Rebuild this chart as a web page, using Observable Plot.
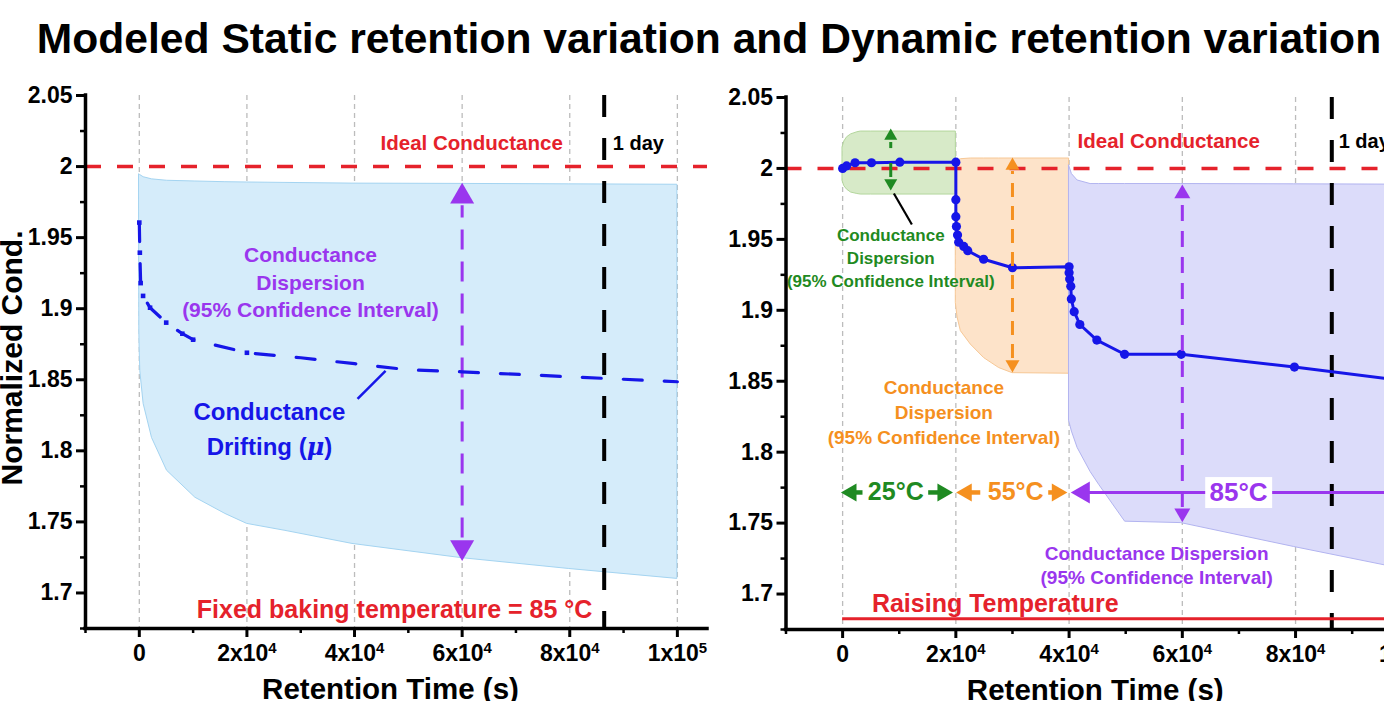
<!DOCTYPE html>
<html>
<head>
<meta charset="utf-8">
<script src="https://cdn.jsdelivr.net/npm/d3@7"></script>
<script src="https://cdn.jsdelivr.net/npm/@observablehq/plot@0.6"></script>
<style>
  html, body { margin:0; padding:0; background:#fff; overflow:hidden; }
  #wrap { position:relative; width:1384px; height:701px; overflow:hidden; background:#fff; font-family:"Liberation Sans", Arial, sans-serif; }
  #title { position:absolute; left:0; top:17px; width:1418px; text-align:center; font-size:42.6px; line-height:43px; font-weight:bold; color:#000; white-space:nowrap; }
  .panel { position:absolute; top:0; }
  .panel svg { max-width:none !important; overflow:visible; }
</style>
</head>
<body>
<div id="wrap">
  <div id="left" class="panel" style="left:0;width:720px;height:701px"></div>
  <div id="right" class="panel" style="left:700px;width:753px;height:701px"></div>
  <div id="title">Modeled Static retention variation and Dynamic retention variation</div>
</div>
<script>
// ---------------- shared axes ----------------
const xDomain = [-10000, 105600];
const yDomain = [1.675, 2.05];
const xTicks = [0, 20000, 40000, 60000, 80000, 100000];
const xTickLabels = ["0", "2x10^4", "4x10^4", "6x10^4", "8x10^4", "1x10^5"];
const xMinorTicks = [-10000, 10000, 30000, 50000, 70000, 90000];
const yTicks = [1.7, 1.75, 1.8, 1.85, 1.9, 1.95, 2, 2.05];
const yTickLabels = ["1.7", "1.75", "1.8", "1.85", "1.9", "1.95", "2", "2.05"];
const yMinorTicks = [1.675, 1.725, 1.775, 1.825, 1.875, 1.925, 1.975, 2.025];
const gridT = [0, 20000, 40000, 60000, 80000, 100000];
const idealLevel = 2;
const oneDay = 86400;
const xAxisLabel = "Retention Time (s)";
const yAxisLabel = "Normalized Cond.";

// ---------------- left: static retention (85 °C) ----------------
const staticMuT = [0, 100, 250, 700, 2000, 5000, 8000, 10000, 20000, 30000, 40000, 50000, 60000, 80000, 100000];
const staticMuV = [1.9606, 1.9394, 1.918, 1.909, 1.9007, 1.8902, 1.8824, 1.8782, 1.869, 1.8655, 1.8613, 1.857, 1.8556, 1.8521, 1.8486];
const staticBandT  = [0, 60, 186, 800, 2363, 5153, 10419, 16000, 20037, 27163, 39628, 59722, 79815, 100000];
const staticBandLo = [1.885, 1.872, 1.856, 1.833, 1.809, 1.786, 1.767, 1.7556, 1.7486, 1.7437, 1.7345, 1.7246, 1.7169, 1.7099];
const staticBandHi = [1.9944, 1.9942, 1.994, 1.9925, 1.991, 1.990, 1.9895, 1.989, 1.9888, 1.9885, 1.988, 1.9878, 1.9875, 1.9872];
const staticArrow = {t: 60000, tipHi: 1.9887, tipLo: 1.7225, stemHi: 1.9725, stemLo: 1.7387};
const staticLeader = {t1: 40559, v1: 1.8366, t2: 45768, v2: 1.8563};
const staticTexts = [
  {t: 61767, v: 2.0171, s: "Ideal Conductance", c: "red", size: 20.5, lh: 1.2, anchor: "middle"},
  {t: 88000, v: 2.0171, s: "1 day", c: "black", size: 20, lh: 1.2, anchor: "start"},
  {t: 31814, v: 1.9197, s: "Conductance\nDispersion\n(95% Confidence Interval)", c: "purple", size: 21, lh: 1.31, anchor: "middle"},
  {t: 24186, v: 1.8173, s: "Conductance\nDrifting (μ)", c: "blue", size: 24, lh: 1.46, anchor: "middle"},
  {t: 47443, v: 1.6894, s: "Fixed baking temperature = 85 °C", c: "red", size: 25, lh: 1.2, anchor: "middle"}
];

// ---------------- right: dynamic retention (25 → 55 → 85 °C) ----------------
const dynMuT = [0, 700, 2200, 5100, 10100, 20000, 20000, 20000, 20100, 20300, 20500, 21400, 22100, 24900, 30000,
                40000, 40000, 40100, 40300, 40400, 40900, 41900, 44900, 49800, 59800, 79800, 100000];
const dynMuV = [2.000, 2.0018, 2.004, 2.004, 2.0044, 2.0044, 1.978, 1.966, 1.959, 1.953, 1.948, 1.945, 1.942, 1.936, 1.930,
                1.9307, 1.9265, 1.922, 1.917, 1.908, 1.899, 1.890, 1.879, 1.869, 1.869, 1.860, 1.850];
const band25T  = [0, 300, 800, 1500, 2600, 3200, 5000, 20000];
const band25Hi = [2.015, 2.019, 2.022, 2.024, 2.0255, 2.026, 2.026, 2.026];
const band25Lo = [1.991, 1.9875, 1.985, 1.983, 1.982, 1.9816, 1.9816, 1.9816];
const band55T  = [20000, 20300, 20883, 22648, 24996, 27644, 30009, 40000];
const band55Hi = [2.002, 2.0055, 2.0065, 2.007, 2.007, 2.007, 2.007, 2.007];
const band55Lo = [1.905, 1.895, 1.8853, 1.8758, 1.8663, 1.8593, 1.8557, 1.8553];
const band85T  = [40000, 40500, 41500, 43800, 45300, 49900, 59800, 79700, 95800, 105600];
const band85Hi = [2.002, 1.996, 1.9915, 1.989, 1.989, 1.989, 1.989, 1.9888, 1.9886, 1.9885];
const band85Lo = [1.822, 1.8145, 1.803, 1.786, 1.777, 1.751, 1.750, 1.7332, 1.7202, 1.7135];
const dynArrows = [
  {stage: "25", t: 8500,  tipHi: 2.0281, stemHi1: 2.0183, stemHi2: 2.014, tipLo: 1.9844, stemLo1: 1.9936, stemLo2: 2.0035, side: 13, dash: null},
  {stage: "55", t: 30000, tipHi: 2.0077, stemHi1: 1.9978, stemHi2: 1.9978, tipLo: 1.8562, stemLo1: 1.866, stemLo2: 1.9978, side: 14, dash: "14,9"},
  {stage: "85", t: 60000, tipHi: 1.9887, stemHi1: 1.9795, stemHi2: 1.9795, tipLo: 1.7506, stemLo1: 1.761, stemLo2: 1.9795, side: 16, dash: "16,10"}
];
const dynLeader = {t1: 9055, v1: 1.9823, t2: 12233, v2: 1.9605};
const tempRowV = 1.7716;
const tempLabels = ["25°C", "55°C", "85°C"];
const tempLabelT = [9391, 30573, 69937];
const tempStems = [
  {stage: "25", t1: 1800, t2: 3600}, {stage: "25", t1: 15200, t2: 17200},
  {stage: "55", t1: 22300, t2: 24400}, {stage: "55", t1: 36400, t2: 37400},
  {stage: "85", t1: 43000, t2: 105600}
];
const tempHeads = [
  {stage: "25", t: -300, dir: "left"}, {stage: "25", t: 19500, dir: "right"},
  {stage: "55", t: 20050, dir: "left"}, {stage: "55", t: 39700, dir: "right"},
  {stage: "85", t: 40300, dir: "left"}
];
const label85Box = {t1: 64130, t2: 75955, v1: 1.7603, v2: 1.7821};
const raisingLineV = 1.6825;
const raisingStartT = 0;
const dynTexts = [
  {t: 57602, v: 2.0197, s: "Ideal Conductance", c: "red", size: 20.5, lh: 1.2, anchor: "middle"},
  {t: 87608, v: 2.0197, s: "1 day", c: "black", size: 20, lh: 1.2, anchor: "start"},
  {t: 8508,  v: 1.9379, s: "Conductance\nDispersion\n(95% Confidence Interval)", c: "green", size: 17, lh: 1.35, anchor: "middle"},
  {t: 17881, v: 1.8293, s: "Conductance\nDispersion\n(95% Confidence Interval)", c: "orange", size: 19, lh: 1.32, anchor: "middle"},
  {t: 55469, v: 1.7212, s: "Conductance Dispersion\n(95% Confidence Interval)", c: "purple", size: 19, lh: 1.3, anchor: "middle"},
  {t: 5172,  v: 1.694, s: "Raising Temperature", c: "red", size: 25, lh: 1.2, anchor: "start"}
];

// ---------------- styles ----------------
const FONT = "Liberation Sans, Arial, Helvetica, sans-serif";
const COL = {red: "#e5222b", blue: "#1616e8", purple: "#9a36ee", green: "#1f8a22", orange: "#f5901f", black: "#000"};
const stageCol = {"25": COL.green, "55": COL.orange, "85": COL.purple};

const zip = (T, cols) => T.map((t, i) => Object.assign({t}, Object.fromEntries(Object.entries(cols).map(([k, a]) => [k, a[i]]))));

function head(data, {x = "t", y, dir, side, fill}) {
  const a = side / (2 * Math.sqrt(3));
  const r = a * Math.sqrt(3 * Math.sqrt(3) / Math.PI);
  const off = 2 * a;
  const rotate = {up: 0, right: 90, down: 180, left: -90}[dir];
  const dx = dir === "right" ? -off : dir === "left" ? off : 0;
  const dy = dir === "up" ? off : dir === "down" ? -off : 0;
  return Plot.dot(data, {x, y, symbol: "triangle", r, fill, stroke: "none", rotate, dx, dy});
}

function axes(withYLabel, xLabelDx) {
  const yFmt = new Map(yTicks.map((d, i) => [d, yTickLabels[i]]));
  const xFmt = new Map(xTicks.map((d, i) => [d, xTickLabels[i]]));
  const m = [
    Plot.axisY({ticks: yMinorTicks, tickSize: 5, tickFormat: () => "", strokeWidth: 2.5, label: null}),
    Plot.axisY({ticks: yTicks, tickSize: 9, tickPadding: 4, tickFormat: d => yFmt.get(d), fontSize: 23, fontWeight: "bold", strokeWidth: 3, label: null}),
    Plot.axisX({ticks: xMinorTicks, tickSize: 5, tickFormat: () => "", strokeWidth: 2.5, label: null}),
    Plot.axisX({ticks: xTicks, tickSize: 9, tickPadding: 7, tickFormat: d => xFmt.get(d), fontSize: 23, fontWeight: "bold", strokeWidth: 3, label: null}),
    Plot.ruleX([xDomain[0]], {stroke: "black", strokeWidth: 3.5, strokeLinecap: "square"}),
    Plot.ruleY([yDomain[0]], {stroke: "black", strokeWidth: 3.5, strokeLinecap: "square"}),
    Plot.text([xAxisLabel], {text: d => d, frameAnchor: "bottom", dx: xLabelDx, dy: 61, lineAnchor: "middle", textAnchor: "middle", fontSize: 29.5, fontWeight: "bold", fill: "black"})
  ];
  if (withYLabel) m.push(Plot.text([yAxisLabel], {text: d => d, frameAnchor: "left", rotate: -90, dx: -73, dy: -4, lineAnchor: "middle", textAnchor: "middle", fontSize: 30, fontWeight: "bold", fill: "black"}));
  return m;
}

function texts(list) {
  return list.map(d => Plot.text([d], {x: "t", y: "v", text: "s", fill: COL[d.c], fontSize: d.size, fontWeight: "bold", lineHeight: d.lh, textAnchor: d.anchor, lineAnchor: "middle"}));
}

function finish(svg) {
  const NS = "http://www.w3.org/2000/svg";
  svg.querySelectorAll("text").forEach(t => {
    const s = t.textContent;
    if (t.children.length === 0 && s.includes("^")) {
      const [b, e] = s.split("^");
      t.textContent = b;
      const sp = document.createElementNS(NS, "tspan");
      sp.setAttribute("dy", "-0.5em");
      sp.setAttribute("font-size", "0.65em");
      sp.textContent = e;
      t.appendChild(sp);
    }
  });
  const walker = document.createTreeWalker(svg, NodeFilter.SHOW_TEXT);
  const nodes = [];
  while (walker.nextNode()) if (walker.currentNode.nodeValue.includes("μ")) nodes.push(walker.currentNode);
  nodes.forEach(n => {
    const [a, b] = n.nodeValue.split("μ");
    const parent = n.parentNode;
    const sp = document.createElementNS(NS, "tspan");
    sp.setAttribute("font-style", "italic");
    sp.setAttribute("font-family", "DejaVu Serif, serif");
    sp.textContent = "μ";
    parent.insertBefore(document.createTextNode(a), n);
    parent.insertBefore(sp, n);
    parent.insertBefore(document.createTextNode(b), n);
    parent.removeChild(n);
  });
  return svg;
}

// ---------------- left panel ----------------
const leftBand = zip(staticBandT, {lo: staticBandLo, hi: staticBandHi});
const leftMu = zip(staticMuT, {v: staticMuV});
const sa = [staticArrow];
const leftSvg = Plot.plot({
  width: 720, height: 701,
  marginLeft: 85, marginRight: 13, marginTop: 95, marginBottom: 73,
  style: {fontFamily: FONT, background: "transparent", overflow: "visible"},
  x: {domain: xDomain, label: null},
  y: {domain: yDomain, label: null},
  marks: [
    Plot.ruleX(gridT, {stroke: "#bcbcbc", strokeWidth: 1.3, strokeDasharray: "5,4"}),
    Plot.areaY(leftBand, {x: "t", y1: "lo", y2: "hi", fill: "#d5ecfa", stroke: "#a4d4f1", strokeWidth: 1}),
    Plot.ruleY([idealLevel], {stroke: COL.red, strokeWidth: 3.5, strokeDasharray: "16,16"}),
    Plot.ruleX([oneDay], {stroke: "black", strokeWidth: 4, strokeDasharray: "22,21"}),
    Plot.ruleX(sa, {x: "t", y1: "stemLo", y2: "stemHi", stroke: COL.purple, strokeWidth: 3, strokeDasharray: "20,12"}),
    head(sa, {y: "tipHi", dir: "up", side: 24, fill: COL.purple}),
    head(sa, {y: "tipLo", dir: "down", side: 24, fill: COL.purple}),
    Plot.line(leftMu, {x: "t", y: "v", stroke: COL.blue, strokeWidth: 3.2, strokeDasharray: "19,22"}),
    Plot.dot(leftMu, {filter: d => d.t <= 20000, x: "t", y: "v", symbol: "square", r: 2.6, fill: COL.blue}),
    Plot.link([staticLeader], {x1: "t1", y1: "v1", x2: "t2", y2: "v2", stroke: COL.blue, strokeWidth: 2.5}),
    ...texts(staticTexts),
    ...axes(true, -6)
  ]
});
document.getElementById("left").appendChild(finish(leftSvg));

// ---------------- right panel ----------------
const b25 = zip(band25T, {lo: band25Lo, hi: band25Hi});
const b55 = zip(band55T, {lo: band55Lo, hi: band55Hi});
const b85 = zip(band85T, {lo: band85Lo, hi: band85Hi});
const dynMu = zip(dynMuT, {v: dynMuV});
const tLabels = tempLabels.map((s, i) => ({s, t: tempLabelT[i], v: tempRowV, stage: s.slice(0, 2)}));
const stems = tempStems.map(d => ({...d, v: tempRowV}));
const heads = tempHeads.map(d => ({...d, v: tempRowV}));
const rightSvg = Plot.plot({
  width: 753, height: 701,
  marginLeft: 85.5, marginRight: 13, marginTop: 97, marginBottom: 72,
  style: {fontFamily: FONT, background: "transparent", overflow: "visible"},
  x: {domain: xDomain, label: null},
  y: {domain: yDomain, label: null},
  marks: [
    Plot.ruleX(gridT, {stroke: "#bcbcbc", strokeWidth: 1.3, strokeDasharray: "5,4"}),
    Plot.areaY(b25, {x: "t", y1: "lo", y2: "hi", fill: "#d7eac8", stroke: "#b3d69c", strokeWidth: 1}),
    Plot.areaY(b55, {x: "t", y1: "lo", y2: "hi", fill: "#fde3c9", stroke: "#f7c896", strokeWidth: 1}),
    Plot.areaY(b85, {x: "t", y1: "lo", y2: "hi", fill: "#dcdcfa", stroke: "#b2b4f0", strokeWidth: 1}),
    Plot.ruleY([idealLevel], {stroke: COL.red, strokeWidth: 3.5, strokeDasharray: "16,16"}),
    Plot.ruleX([oneDay], {stroke: "black", strokeWidth: 4, strokeDasharray: "22,21"}),
    Plot.ruleY([raisingLineV], {x1: raisingStartT, x2: xDomain[1], stroke: COL.red, strokeWidth: 3}),
    Plot.ruleY(stems, {y: "v", x1: "t1", x2: "t2", stroke: d => stageCol[d.stage], strokeWidth: d => d.stage === "85" ? 3 : 4.5}),
    ...heads.map(d => head([d], {y: "v", dir: d.dir, side: d.stage === "85" ? 22 : 18, fill: stageCol[d.stage]})),
    Plot.rect([label85Box], {x1: "t1", x2: "t2", y1: "v1", y2: "v2", fill: "white"}),
    Plot.text(tLabels, {x: "t", y: "v", text: "s", fill: d => stageCol[d.stage], fontSize: d => d.stage === "85" ? 26 : 25, fontWeight: "bold", lineAnchor: "middle"}),
    Plot.line(dynMu, {x: "t", y: "v", stroke: COL.blue, strokeWidth: 3}),
    Plot.dot(dynMu, {x: "t", y: "v", r: 4.6, fill: COL.blue}),
    ...dynArrows.flatMap(d => [
      Plot.ruleX([d], {x: "t", y1: "stemHi1", y2: "stemHi2", stroke: stageCol[d.stage], strokeWidth: 3}),
      Plot.ruleX([d], {x: "t", y1: "stemLo1", y2: "stemLo2", stroke: stageCol[d.stage], strokeWidth: 3, strokeDasharray: d.dash}),
      head([d], {y: "tipHi", dir: "up", side: d.side, fill: stageCol[d.stage]}),
      head([d], {y: "tipLo", dir: "down", side: d.side, fill: stageCol[d.stage]})
    ]),
    Plot.link([dynLeader], {x1: "t1", y1: "v1", x2: "t2", y2: "v2", stroke: "black", strokeWidth: 2.2}),
    ...texts(dynTexts),
    ...axes(false, -18)
  ]
});
document.getElementById("right").appendChild(finish(rightSvg));
</script>
</body>
</html>
